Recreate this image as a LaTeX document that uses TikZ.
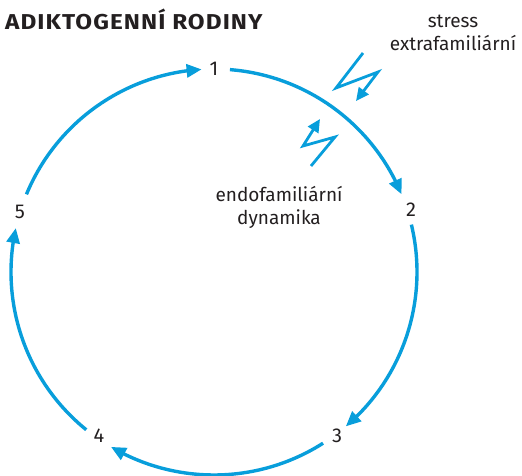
\documentclass[tikz,border=0pt]{standalone}
\usepackage{fontspec}
\setmainfont{Fira Sans}
\newfontfamily\headfont[LetterSpace=5,FakeStretch=1.13]{Fira Sans}
\usetikzlibrary{arrows.meta,bending}
\definecolor{cycleblue}{RGB}{8,158,219}
\definecolor{inktext}{RGB}{35,31,32}
\begin{document}
\begin{tikzpicture}[x=1pt,y=1pt,
  cyc/.style={draw=cycleblue,line width=3.4pt,-{Triangle[length=15pt,width=13pt,flex]}},
  bolt/.style={draw=cycleblue,line width=2.8pt,line join=miter,-{Triangle[length=13pt,width=12pt]}},
  num/.style={font=\fontsize{20}{22}\selectfont,text=inktext,inner sep=0pt},
  lbl/.style={font=\fontsize{19}{23}\selectfont,text=inktext,align=center,inner sep=0pt},
  ttl/.style={font=\headfont\fontsize{21.5}{24}\selectfont\bfseries,text=inktext,inner sep=0pt,anchor=base west}]
\useasboundingbox (0,0) rectangle (522,476);
% centre of the cycle
\coordinate (C) at (214,204);
\def\R{203}
% stage numbers
\node[num] (n1) at (214,407) {1};
\node[num] (n2) at (411,266) {2};
\node[num] (n3) at (337,40) {3};
\node[num] (n4) at (99,40) {4};
\node[num] (n5) at (20,264) {5};
% cycle arcs
\draw[cyc] ([shift={(C)}]85.5:\R) arc[start angle=85.5,end angle=22.5,radius=\R];
\draw[cyc] ([shift={(C)}]13.5:\R) arc[start angle=13.5,end angle=-49.5,radius=\R];
\draw[cyc] ([shift={(C)}]-57.5:\R) arc[start angle=-57.5,end angle=-120.5,radius=\R];
\draw[cyc] ([shift={(C)}]231:\R) arc[start angle=231,end angle=167.5,radius=\R];
\draw[cyc] ([shift={(C)}]157.5:\R) arc[start angle=157.5,end angle=93.5,radius=\R];
% title
\node[ttl] (title) at (5,446) {ADIKTOGENNÍ RODINY};
% labels
\node[lbl] (ext) at (453,443) {stress\\extrafamiliární};
\node[lbl] (endo) at (279,269) {endofamiliární\\dynamika};
% stress bolts
\coordinate (a1) at (363,423);
\coordinate (a2) at (336,388);
\coordinate (a3) at (378,404);
\coordinate (a4) at (356,375);
\draw[bolt] (a1) -- (a2) -- (a3) -- (a4);
\coordinate (b1) at (311,310);
\coordinate (b2) at (335,339);
\coordinate (b3) at (303,330);
\coordinate (b4) at (320,357);
\draw[bolt] (b1) -- (b2) -- (b3) -- (b4);
\end{tikzpicture}
\end{document}
